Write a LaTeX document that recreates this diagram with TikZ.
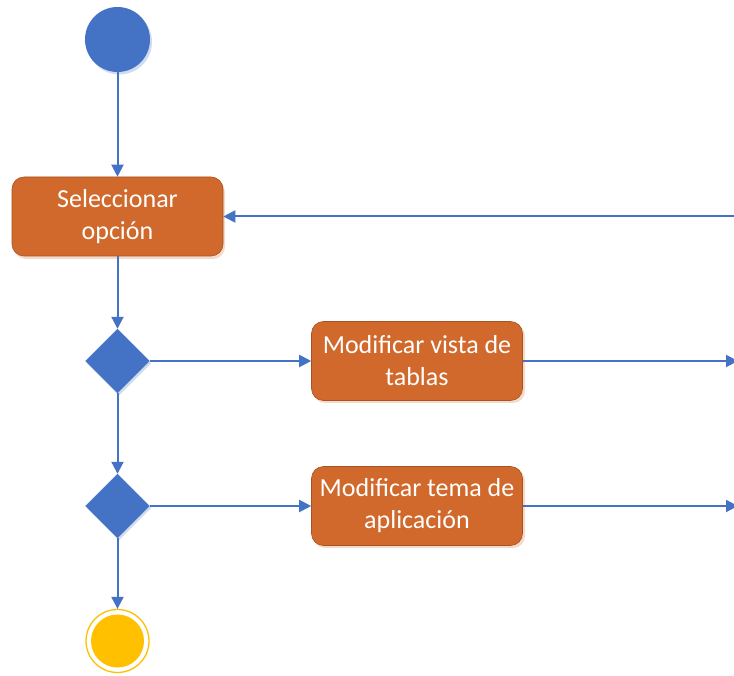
\documentclass[tikz,border=0pt]{standalone}
\usepackage{fontspec}
\setmainfont{Carlito}
\usetikzlibrary{shapes.geometric,arrows.meta}
\definecolor{ublue}{HTML}{4472C4}
\definecolor{uorange}{HTML}{D0692B}
\definecolor{uyellow}{HTML}{FFC000}
\begin{document}
\begin{tikzpicture}[x=1pt,y=-1pt,
  action/.style={rounded corners=12pt, fill=uorange, draw=uorange!80!black, line width=0.6pt,
    minimum width=211pt, minimum height=79pt, text=white, align=center,
    font=\fontsize{26}{32}\selectfont, inner sep=0pt},
  decision/.style={diamond, fill=ublue, draw=ublue, minimum width=64pt, minimum height=64pt, inner sep=0pt, aspect=1},
  flow/.style={draw=ublue, line width=2pt, -{Triangle[length=12pt,width=12pt]}},
]
\useasboundingbox (0,0) rectangle (734,676);
% shadows
\fill[ublue!25] (119.5,42) circle (32.5);
\fill[uorange!25, rounded corners=12pt] (14,180) rectangle (225,259);
\fill[uorange!25, rounded corners=12pt] (313,324) rectangle (525,403);
\fill[uorange!25, rounded corners=12pt] (313,469) rectangle (525,548);
\fill[ublue!25] (119,331.5) -- (151,363.5) -- (119,395.5) -- (87,363.5) -- cycle;
\fill[ublue!25] (119,476) -- (151,508) -- (119,540) -- (87,508) -- cycle;
% nodes
\node[circle, fill=ublue, minimum size=65pt, inner sep=0pt] (start) at (117.5,39.5) {};
\node[action] (sel) at (117.5,216.5) {Seleccionar\\opción};
\node[decision] (d1) at (117.5,361) {};
\node[action] (vista) at (417,361) {Modificar vista de\\tablas};
\node[decision] (d2) at (117.5,506) {};
\node[action] (tema) at (417,506) {Modificar tema de\\aplicación};
\node[circle, draw=uyellow, line width=1.3pt, fill=white, minimum size=63pt, inner sep=0pt] (end) at (117.5,641) {};
\fill[uyellow] (end.center) circle (26.5);
\coordinate (rin) at (745,216.5);
\coordinate (rout1) at (738,361);
\coordinate (rout2) at (738,506);
% connectors
\draw[flow] (start) -- (sel);
\draw[flow] (sel) -- (d1);
\draw[flow] (d1) -- (d2);
\draw[flow] (d2) -- (end);
\draw[flow] (d1.east) -- (vista.west);
\draw[flow] (d2.east) -- (tema.west);
\draw[flow] (rin) -- (sel.east);
\draw[flow] (vista.east) -- (rout1);
\draw[flow] (tema.east) -- (rout2);
\end{tikzpicture}
\end{document}
